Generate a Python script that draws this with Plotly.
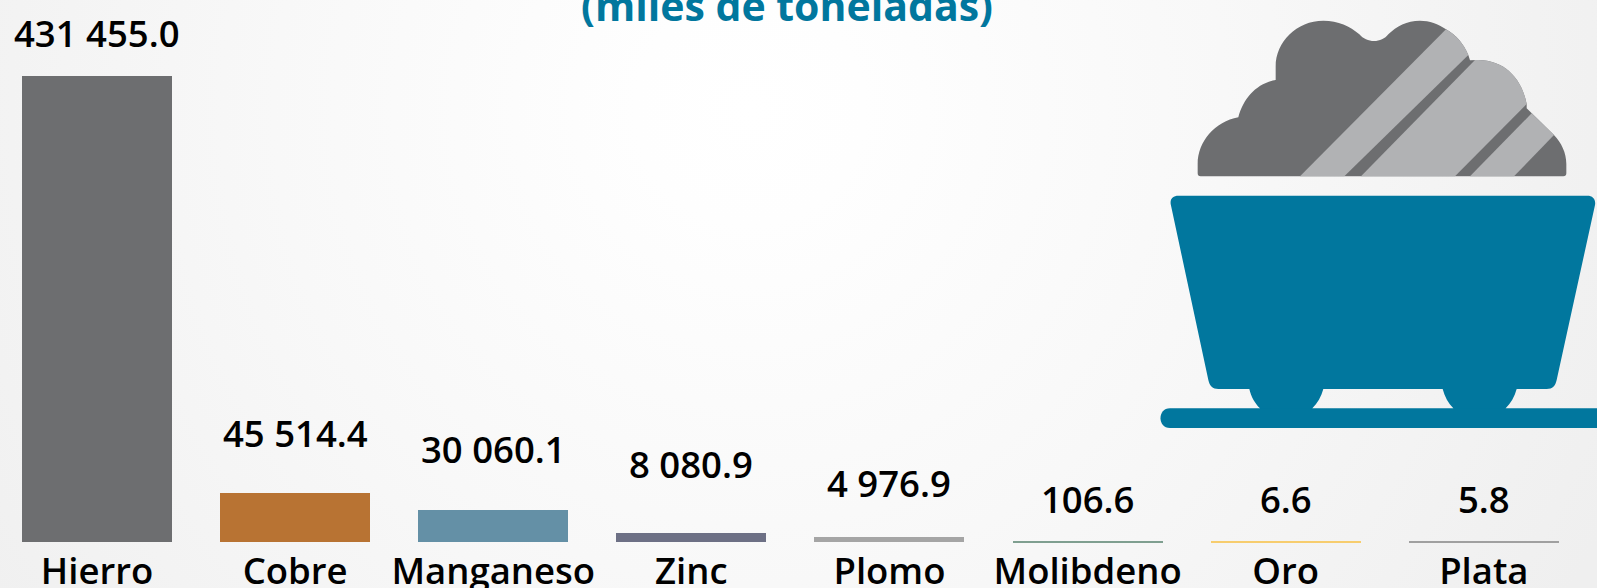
import base64
import plotly.graph_objects as go

categories = ["Hierro", "Cobre", "Manganeso", "Zinc", "Plomo", "Molibdeno", "Oro", "Plata"]
values = [431455.0, 45514.4, 30060.1, 8080.9, 4976.9, 106.6, 6.6, 5.8]
value_labels = ["431 455.0", "45 514.4", "30 060.1", "8 080.9", "4 976.9", "106.6", "6.6", "5.8"]
bar_colors = ["#6D6E70", "#B87333", "#6490A6", "#6D7085", "#A5A5A5", "#7F9F90", "#F7CD6E", "#A0A0A0"]
label_lifts = [43, 60, 61, 69, 54, 43, 43, 43]
min_line = [0, 0, 0, 0, 0, 2, 2, 2]

W, H = 1597, 588
PLOT_BOTTOM = 548
ZERO_PX = 542
TOP_PX = 76
UNITS_PER_PX = values[0] / (ZERO_PX - TOP_PX)
STEP = 198.12
C0 = 97

DARK = "#6D6E70"
LIGHT = "#B1B2B4"
BLUE = "#01779E"
TEXT = "#000000"
FONT = "Open Sans"


def px(zx, zy):
    """icon drawing coordinates (3x crop of the page) -> paper fractions"""
    x = (1150 + zx / 3) / W
    y = 1 - (zy / 3) / PLOT_BOTTOM
    return f"{x:.5f},{y:.5f}"


def path(cmds):
    out = []
    for c in cmds:
        out.append(c[0] + " ".join(px(*p) for p in c[1:]))
    return " ".join(out) + " Z"


pile = path([
    ("M", (143, 520)), ("C", (143, 526), (146, 529), (152, 529)), ("L", (1240, 529)),
    ("C", (1246, 529), (1249, 526), (1249, 520)), ("L", (1249, 492)),
    ("C", (1249, 458), (1234, 428), (1212, 405)), ("L", (1130, 325)), ("L", (1130, 312)),
    ("C", (1115, 232), (1060, 180), (985, 180)), ("L", (960, 181)), ("L", (955, 165)),
    ("C", (940, 130), (918, 105), (888, 88)), ("C", (865, 72), (838, 62), (810, 62)),
    ("C", (770, 62), (740, 78), (715, 103)),
    ("C", (695, 130), (650, 130), (628, 103)), ("C", (600, 78), (565, 62), (520, 62)),
    ("C", (440, 62), (377, 125), (377, 200)), ("L", (377, 240)),
    ("C", (320, 250), (280, 295), (265, 352)), ("C", (195, 365), (143, 425), (143, 492)),
])
band1 = path([("M", (450, 529)), ("L", (888, 88)), ("C", (918, 105), (940, 130), (955, 165)), ("L", (583, 529))])
band2 = path([("M", (633, 529)), ("L", (975, 180)), ("L", (985, 180)),
              ("C", (1060, 180), (1115, 232), (1130, 312)), ("L", (915, 529))])
band3 = path([("M", (960, 529)), ("L", (1145, 340)), ("L", (1212, 405)), ("L", (1092, 529))])
cart = path([
    ("M", (62, 612)), ("C", (60, 595), (70, 587), (85, 587)), ("L", (1312, 587)),
    ("C", (1328, 587), (1338, 597), (1335, 615)), ("L", (1220, 1140)),
    ("C", (1216, 1158), (1208, 1167), (1190, 1167)), ("L", (1100, 1167)),
    ("C", (1094, 1190), (1082, 1210), (1067, 1225)), ("L", (1067, 1232)), ("L", (910, 1232)), ("L", (910, 1225)),
    ("C", (895, 1210), (884, 1190), (878, 1167)), ("L", (520, 1167)),
    ("C", (514, 1190), (502, 1210), (487, 1225)), ("L", (487, 1232)), ("L", (330, 1232)), ("L", (330, 1225)),
    ("C", (315, 1210), (303, 1190), (298, 1167)), ("L", (205, 1167)),
    ("C", (188, 1167), (179, 1158), (175, 1140)),
])
rail = path([
    ("M", (60, 1225)), ("L", (1345, 1225)), ("L", (1345, 1284)), ("L", (60, 1284)),
    ("C", (22, 1284), (22, 1225), (60, 1225)),
])
shapes = [dict(type="path", xref="paper", yref="paper", path=p, fillcolor=c, line_width=0, layer="above")
          for p, c in [(pile, DARK), (band1, LIGHT), (band2, LIGHT), (band3, LIGHT), (cart, BLUE), (rail, BLUE)]]

svg = f"""<svg xmlns="http://www.w3.org/2000/svg" width="{W}" height="{H}" viewBox="0 0 {W} {H}">
<defs><radialGradient id="g" gradientUnits="userSpaceOnUse" cx="750" cy="110" r="950">
<stop offset="0" stop-color="#ffffff"/><stop offset="0.12" stop-color="#fefefe"/>
<stop offset="0.5" stop-color="#f8f8f8"/><stop offset="1" stop-color="#efefef"/>
</radialGradient></defs><rect width="{W}" height="{H}" fill="url(#g)"/></svg>"""
bg = "data:image/svg+xml;base64," + base64.b64encode(svg.encode()).decode()

x_pos = list(range(len(categories)))
fig = go.Figure(go.Bar(
    x=x_pos, y=values, width=150 / STEP,
    marker=dict(color=bar_colors, line=dict(color=bar_colors, width=min_line)),
    hoverinfo="x+y",
))

annotations = [
    dict(x=i, y=v, xref="x", yref="y", text=t, showarrow=False, yanchor="middle",
         yshift=lift, font=dict(family=FONT, size=36.5, color=TEXT, weight=600))
    for i, (v, t, lift) in enumerate(zip(values, value_labels, label_lifts))
]

fig.update_layout(
    width=W, height=H, autosize=False,
    margin=dict(l=0, r=0, t=0, b=H - PLOT_BOTTOM, pad=0),
    paper_bgcolor="#f4f4f4", plot_bgcolor="rgba(0,0,0,0)",
    showlegend=False, bargap=0,
    title=dict(text="<b>(miles de toneladas)</b>", x=787 / W, xanchor="center", y=0.988, yanchor="middle",
               font=dict(family=FONT, size=41, color=BLUE)),
    xaxis=dict(range=[-C0 / STEP, (W - C0) / STEP], tickvals=x_pos, ticktext=categories,
               showgrid=False, zeroline=False, showline=False, ticks="", ticklen=0,
               ticklabelstandoff=-2,
               tickfont=dict(family=FONT, size=36.5, color=TEXT, weight=600),
               tickangle=0, automargin=False, fixedrange=True),
    yaxis=dict(range=[-(PLOT_BOTTOM - ZERO_PX) * UNITS_PER_PX, ZERO_PX * UNITS_PER_PX], visible=False,
               fixedrange=True),
    annotations=annotations, shapes=shapes,
    images=[dict(source=bg, xref="paper", yref="paper", x=0, y=1, sizex=1, sizey=H / PLOT_BOTTOM,
                 sizing="stretch", xanchor="left", yanchor="top", layer="below")],
)
fig.write_html("out.html", config=dict(displayModeBar=False),
               post_script="document.body.style.margin='0';document.body.style.overflow='hidden';")
